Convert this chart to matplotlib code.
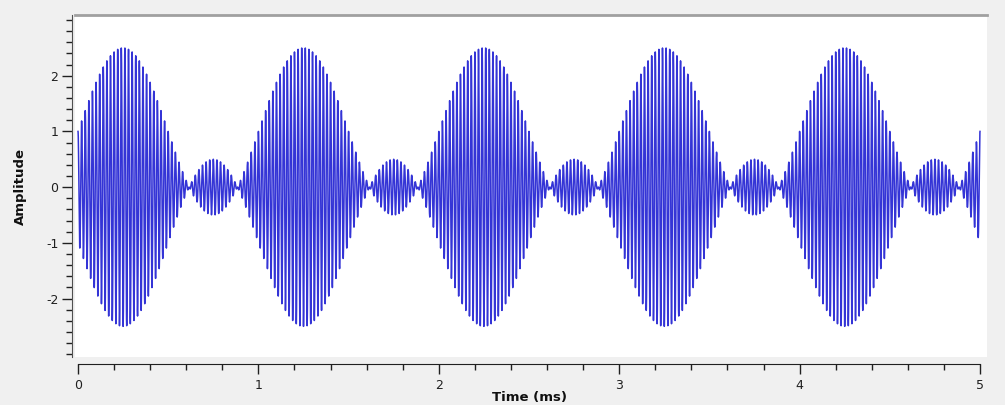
import numpy as np
import matplotlib
matplotlib.use('Agg')
import matplotlib.pyplot as plt
from matplotlib.ticker import MultipleLocator, FixedLocator

plt.rcParams['axes.unicode_minus'] = False

# Signal parameters
sample_rate_khz = 2000        # dense sampling, drawn as a smooth trace
duration_ms = 5.0
carrier_khz = 50.0            # about 50 carrier cycles per ms
mod_khz = 1.0                 # envelope repeats every 1 ms
carrier_amp = 1.0             # value at t = 0
mod_depth = 1.5               # big lobes reach 2.5, small lobes 0.5

# Axis ticks
x_major = [0, 1, 2, 3, 4, 5]
y_major = [-2, -1, 0, 1, 2]
y_minor = [-3.0, -2.8, -2.6, -2.4, -2.2, -1.8, -1.6, -1.4, -1.2, -0.8, -0.6,
           -0.4, -0.2, 0.2, 0.4, 0.6, 0.8, 1.2, 1.4, 1.6, 1.8, 2.2, 2.4,
           2.6, 2.8, 3.0]

# Sampled waveform
t = np.arange(0, int(duration_ms * sample_rate_khz) + 1) / sample_rate_khz
envelope = carrier_amp + mod_depth * np.sin(2 * np.pi * mod_khz * t)
signal = envelope * np.cos(2 * np.pi * carrier_khz * t)

# Figure
fig = plt.figure(figsize=(10.05, 4.05), dpi=100, facecolor='#f0f0f0')
ax = fig.add_axes([75 / 1005, 1 - 357 / 405, (987 - 75) / 1005, (357 - 15) / 405])
ax.set_facecolor('white')

ax.plot(t, signal, color='#3434d6', linewidth=1.1)

ax.set_xlim(-3 / 180.4, 5 + 7 / 180.4)
ax.set_ylim(-3.05, 3.09)

ax.xaxis.set_major_locator(FixedLocator(x_major))
ax.xaxis.set_minor_locator(MultipleLocator(0.2))
ax.yaxis.set_major_locator(FixedLocator(y_major))
ax.yaxis.set_minor_locator(FixedLocator(y_minor))

ax.spines['right'].set_visible(False)
ax.spines['top'].set_color('#a0a0a0')
ax.spines['top'].set_linewidth(2)
ax.spines['left'].set_color('#505050')
ax.spines['left'].set_position(('outward', 2))
ax.spines['bottom'].set_position(('outward', 5))
ax.spines['bottom'].set_bounds(0, 5)
ax.spines['bottom'].set_color('#202020')

ax.tick_params(which='both', direction='out', width=1, colors='#202020',
               labelsize=9, labelcolor='#202020')
ax.tick_params(which='major', length=7)
ax.tick_params(which='minor', length=4)
ax.tick_params(axis='x', which='major', pad=4)
ax.tick_params(axis='y', which='major', pad=3)

fig.text(529 / 1005, 1 - 397 / 405, 'Time (ms)', ha='center', va='center',
         fontsize=9.5, fontweight='bold', color='#101010')
fig.text(20 / 1005, 1 - 187 / 405, 'Amplitude', ha='center', va='center',
         rotation=90, fontsize=9.5, fontweight='bold', color='#101010')

fig.savefig('out.png', dpi=100, facecolor=fig.get_facecolor())
